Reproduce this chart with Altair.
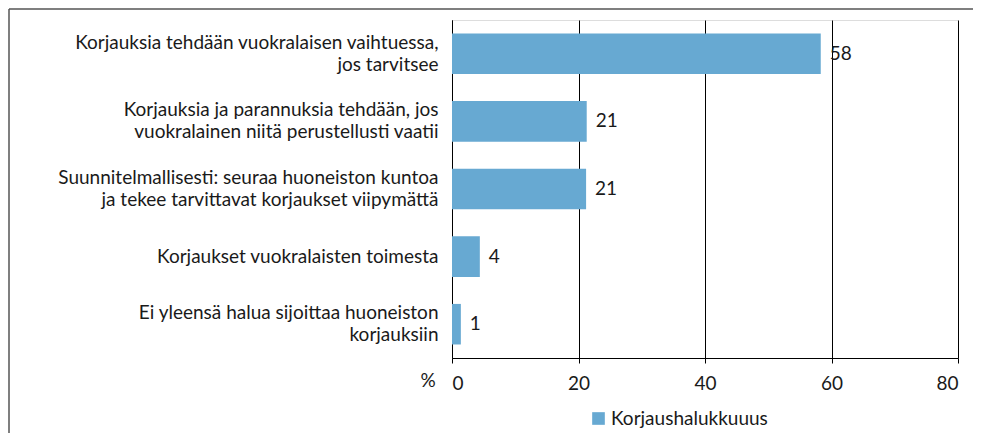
import altair as alt
import pandas as pd

categories = [
    "Korjauksia tehdään vuokralaisen vaihtuessa,\njos tarvitsee",
    "Korjauksia ja parannuksia tehdään, jos\nvuokralainen niitä perustellusti vaatii",
    "Suunnitelmallisesti: seuraa huoneiston kuntoa\nja tekee tarvittavat korjaukset viipymättä",
    "Korjaukset vuokralaisten toimesta",
    "Ei yleensä halua sijoittaa huoneiston\nkorjauksiin",
]
values = [58.3, 21.3, 21.2, 4.4, 1.4]
labels = ["58", "21", "21", "4", "1"]
series = "Korjaushalukkuuus"
x_ticks = [0, 20, 40, 60, 80]

df = pd.DataFrame({"cat": categories, "val": values, "lab": labels, "series": series})

FONT = "Lato"
FS = 19
W, H = 506, 338

y_enc = alt.Y(
    "cat:N",
    sort=categories,
    scale=alt.Scale(paddingInner=0.4, paddingOuter=0.2),
    axis=alt.Axis(
        title=None,
        labelExpr="split(datum.label, '\\n')",
        labelFontSize=FS,
        labelFont=FONT,
        labelColor="#1a1a1a",
        labelPadding=14,
        labelLimit=500,
        labelLineHeight=22,
        labelOffset=alt.ExprRef(expr="indexof(datum.label, '\\n') >= 0 ? -11 : 0"),
        ticks=False,
        domain=True,
        domainColor="#000000",
        grid=False,
    ),
)

x_enc = alt.X(
    "val:Q",
    scale=alt.Scale(domain=[0, 80]),
    axis=alt.Axis(
        title=None,
        values=x_ticks,
        labelFontSize=FS,
        labelFont=FONT,
        labelColor="#1a1a1a",
        labelPadding=11,
        tickSize=5,
        tickColor="#000000",
        domainColor="#000000",
        grid=True,
        gridColor="#000000",
        gridOpacity=1,
        gridWidth=1,
    ),
)

bars = alt.Chart(df).mark_bar(color="#67a9d2").encode(
    x=x_enc,
    y=y_enc,
    color=alt.Color(
        "series:N",
        scale=alt.Scale(range=["#67a9d2"]),
        legend=alt.Legend(
            title=None,
            orient="none",
            legendX=137,
            legendY=389,
            symbolType="square",
            symbolSize=160,
            symbolStrokeWidth=0,
            labelFontSize=FS,
            labelFont=FONT,
            labelColor="#1a1a1a",
            labelOffset=3,
        ),
    ),
)

text = alt.Chart(df).mark_text(
    align="left", baseline="middle", dx=9, fontSize=FS, font=FONT, color="#1a1a1a"
).encode(x="val:Q", y=alt.Y("cat:N", sort=categories), text="lab:N")

pct = alt.Chart(pd.DataFrame({"t": ["%"]})).mark_text(
    align="center", baseline="middle", fontSize=FS, font=FONT, color="#1a1a1a"
).encode(x=alt.value(-24), y=alt.value(H + 23), text="t:N")

border_left = alt.Chart(pd.DataFrame({"a": [0]})).mark_rule(color="#555555", strokeWidth=1.5).encode(
    x=alt.value(-443), y=alt.value(-11), y2=alt.value(H + 80)
)
border_top = alt.Chart(pd.DataFrame({"a": [0]})).mark_rule(color="#555555", strokeWidth=1.5).encode(
    y=alt.value(-11), x=alt.value(-443), x2=alt.value(W + 20)
)

chart = (
    alt.layer(bars, text, pct, border_left, border_top)
    .properties(
        width=W,
        height=H,
        autosize=alt.AutoSizeParams(type="none"),
        padding={"left": 444, "top": 12, "right": 15, "bottom": 75},
    )
    .configure_view(stroke=None)
    .configure(background="white")
)

chart.save("out.html", embed_options={"renderer": "svg", "actions": False})
